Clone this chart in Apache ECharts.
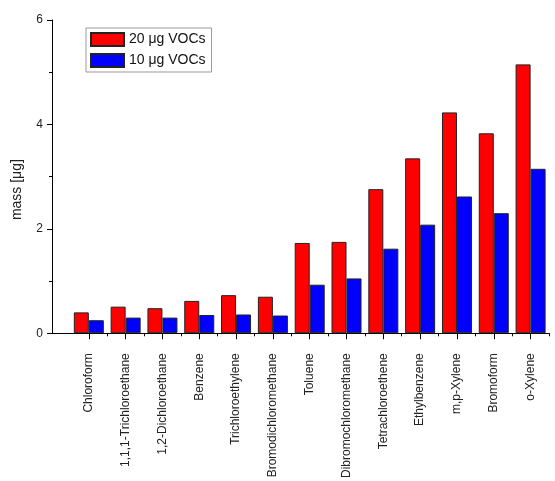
<!DOCTYPE html>
<html>
<head>
<meta charset="utf-8">
<script src="https://cdn.jsdelivr.net/npm/echarts@6/dist/echarts.min.js"></script>
<style>
  html, body { margin: 0; padding: 0; background: #fff; }
  #chart { width: 555px; height: 481px; }
</style>
</head>
<body>
<div id="chart"></div>
<script>
// Compounds along the x axis
const categories = [
  'Chloroform', '1,1,1-Trichloroethane', '1,2-Dichloroethane', 'Benzene',
  'Trichloroethylene', 'Bromodichloromethane', 'Toluene', 'Dibromochloromethane',
  'Tetrachloroethene', 'Ethylbenzene', 'm,p-Xylene', 'Bromoform', 'o-Xylene'
];
// Recovered mass [µg] for the two spiking levels
const mass20 = [0.40, 0.51, 0.48, 0.62, 0.73, 0.70, 1.73, 1.75, 2.76, 3.35, 4.23, 3.83, 5.15];
const mass10 = [0.25, 0.30, 0.30, 0.35, 0.36, 0.34, 0.93, 1.05, 1.62, 2.08, 2.62, 2.30, 3.15];
const seriesNames = ['20 μg VOCs', '10 μg VOCs'];
const yTicks = [0, 2, 4, 6];

// Category positions on a numeric axis: 1..N, with half-steps for the minor ticks
const positions = categories.map((_, i) => i + 1);
const halfPositions = categories.map((_, i) => i + 1.5);
const xMax = categories.length + 0.5;

const chart = echarts.init(document.getElementById('chart'), null, { renderer: 'canvas' });

const axisText = { color: '#222', fontFamily: 'Liberation Sans, Arial, sans-serif' };

chart.setOption({
  animation: false,
  backgroundColor: '#fff',
  grid: { left: 52, right: 6, top: 20, bottom: 146, containLabel: false },
  legend: {
    orient: 'vertical',
    left: 86,
    top: 28,
    padding: [4, 6, 4, 4],
    itemGap: 6,
    itemWidth: 33,
    itemHeight: 13,
    borderColor: '#999',
    borderWidth: 1,
    icon: 'rect',
    textStyle: { fontSize: 14, color: '#111', fontFamily: 'Liberation Sans, Arial, sans-serif' },
    data: seriesNames
  },
  xAxis: [
    {
      type: 'value',
      min: 0,
      max: xMax,
      position: 'bottom',
      axisLine: { show: true, lineStyle: { color: '#000', width: 1 } },
      axisTick: { show: true, inside: false, length: 6, customValues: positions, lineStyle: { color: '#000' } },
      axisLabel: {
        show: true,
        customValues: positions,
        rotate: 90,
        margin: 20,
        fontSize: 12,
        ...axisText,
        formatter: v => categories[Math.round(v) - 1] || ''
      },
      splitLine: { show: false }
    },
    {
      type: 'value',
      min: 0,
      max: xMax,
      position: 'bottom',
      axisLine: { show: false },
      axisTick: { show: true, inside: false, length: 3, customValues: halfPositions, lineStyle: { color: '#000' } },
      axisLabel: { show: false },
      splitLine: { show: false }
    }
  ],
  yAxis: {
    type: 'value',
    min: yTicks[0],
    max: yTicks[yTicks.length - 1],
    interval: 2,
    name: 'mass [μg]',
    nameLocation: 'middle',
    nameGap: 28,
    nameTextStyle: { fontSize: 14, padding: [0, 26, 0, 0], ...axisText },
    axisLine: { show: true, lineStyle: { color: '#000', width: 1 } },
    axisTick: { show: true, inside: false, length: 5, lineStyle: { color: '#000' } },
    minorTick: { show: true, splitNumber: 2, length: 3, lineStyle: { color: '#000' } },
    axisLabel: { margin: 9, fontSize: 12, ...axisText },
    splitLine: { show: false }
  },
  series: [
    {
      name: seriesNames[0],
      type: 'bar',
      xAxisIndex: 0,
      barWidth: 15,
      barGap: '0%',
      itemStyle: { color: '#ff0000', borderColor: '#222', borderWidth: 1 },
      data: positions.map((p, i) => [p, mass20[i]])
    },
    {
      name: seriesNames[1],
      type: 'bar',
      xAxisIndex: 0,
      barWidth: 15,
      barGap: '0%',
      itemStyle: { color: '#0000ff', borderColor: '#222', borderWidth: 1 },
      data: positions.map((p, i) => [p, mass10[i]])
    }
  ]
});
</script>
</body>
</html>
